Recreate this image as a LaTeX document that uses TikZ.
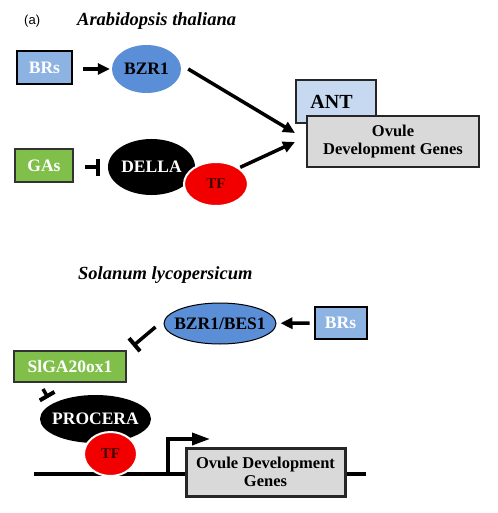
\documentclass[tikz,border=0pt]{standalone}
\usepackage{fontspec}
\setmainfont{Liberation Serif}
\newfontfamily\panelfont{Liberation Sans}
\usetikzlibrary{arrows.meta,shapes.geometric}
\definecolor{brblue}{HTML}{8DB3E2}
\definecolor{bzrblue}{HTML}{5A8ED6}
\definecolor{gagreen}{HTML}{80C04A}
\definecolor{antblue}{HTML}{C6D9F1}
\definecolor{genegray}{HTML}{D9D9D9}
\definecolor{tfred}{HTML}{F20000}

\begin{document}
\begin{tikzpicture}[
    x=1pt, y=-1pt,
    lbl/.style={font=\fontsize{17.5}{19}\selectfont\bfseries, inner sep=0pt},
    sig/.style={lbl, draw=black, line width=2pt, fill=brblue, text=white},
    ga/.style={lbl, draw=black!80, line width=2pt, fill=gagreen, text=white},
    prot/.style={lbl, ellipse},
    tf/.style={ellipse, draw=white, line width=2pt, fill=tfred, inner sep=0pt, font=\fontsize{15}{17}\selectfont\bfseries, text=black!75!red},
    genes/.style={font=\fontsize{16.5}{18}\selectfont\bfseries, draw=black!85, line width=1.5pt, fill=genegray, align=center, inner sep=0pt},
    title/.style={font=\fontsize{18.5}{21}\selectfont\bfseries\itshape, anchor=base west, inner sep=0pt},
    act/.style={-{Triangle[length=12pt,width=11pt]}, line width=3.5pt},
    inh/.style={-{Bar[width=17pt,line width=4pt]}, line width=3.5pt}
]
\useasboundingbox (0,0) rectangle (497,513);

% Arabidopsis thaliana
\node[font=\panelfont\fontsize{13}{15}\selectfont, anchor=base west, inner sep=0pt] (panel) at (24,25) {(a)};
\node[title] (arab) at (77,26) {Arabidopsis thaliana};
\node[sig, minimum width=55pt, minimum height=33pt] (brs) at (44.5,67.5) {BRs};
\node[prot, fill=bzrblue, minimum width=69pt, minimum height=48pt] (bzr) at (146.5,69) {\makebox[0pt]{BZR1}};
\node[ga, minimum width=58pt, minimum height=33pt] (gas) at (44,165.5) {GAs};
\node[prot, fill=black, text=white, minimum width=87pt, minimum height=56pt] (della) at (151.5,167) {\makebox[0pt]{DELLA}};
\node[tf, minimum width=64pt, minimum height=44pt] (tfa) at (216,184) {TF};
\node[genes, fill=antblue, font=\fontsize{20}{22}\selectfont\bfseries, minimum width=80pt, minimum height=43pt] (ant) at (336,101.5) {\kern-9pt ANT};
\node[genes, minimum width=172pt, minimum height=51pt] (ova) at (393,141.5) {Ovule\\Development Genes};
\coordinate (hit1) at (295,133);
\coordinate (hit2) at (295,142);
\draw[act, shorten <=10pt, shorten >=2pt] (brs.east |- bzr.west) -- (bzr.west);
\draw[act] ([xshift=7pt]bzr.east) -- (hit1);
\draw[act, shorten <=1pt] (tfa.north east) -- (hit2);
\draw[inh, shorten <=11pt, shorten >=8pt] (gas.east |- della.west) -- (della.west);

% Solanum lycopersicum
\node[title] (sola) at (78,279) {Solanum lycopersicum};
\node[prot, fill=bzrblue, draw=black, line width=1pt, minimum width=112pt, minimum height=41pt] (bzrb) at (220,323.5) {\makebox[0pt]{BZR1/BES1}};
\node[sig, minimum width=52pt, minimum height=32pt] (brsb) at (340.5,323) {BRs};
\node[ga, minimum width=112pt, minimum height=31pt] (slga) at (70,366.5) {SlGA20ox1};
\node[prot, fill=black, text=white, minimum width=111pt, minimum height=48pt] (proc) at (95.5,419) {\makebox[0pt]{PROCERA}};
\coordinate (dnal) at (34,474);
\coordinate (dnar) at (366,474);
\coordinate (tss) at (168,474);
\coordinate (tssend) at (210,439);
\draw[line width=3.5pt] (dnal) -- (dnar);
\node[tf, minimum width=53pt, minimum height=44pt] (tfb) at (110.5,454) {TF};
\draw[-{Triangle[length=18pt,width=12pt]}, line width=3.5pt] (tss) |- (tssend);
\node[genes, line width=3pt, minimum width=159pt, minimum height=48pt] (ovb) at (265.5,472) {Ovule Development\\Genes};
\draw[act, shorten <=4pt, shorten >=4pt] (brsb) -- (bzrb);
\draw[inh] ([shift={(-8pt,-3.5pt)}]bzrb.west) -- ([shift={(6pt,4pt)}]slga.north east);
\draw[inh] ([shift={(30pt,-6pt)}]slga.south west) -- ([shift={(-8pt,4pt)}]proc.north west);
\end{tikzpicture}
\end{document}
